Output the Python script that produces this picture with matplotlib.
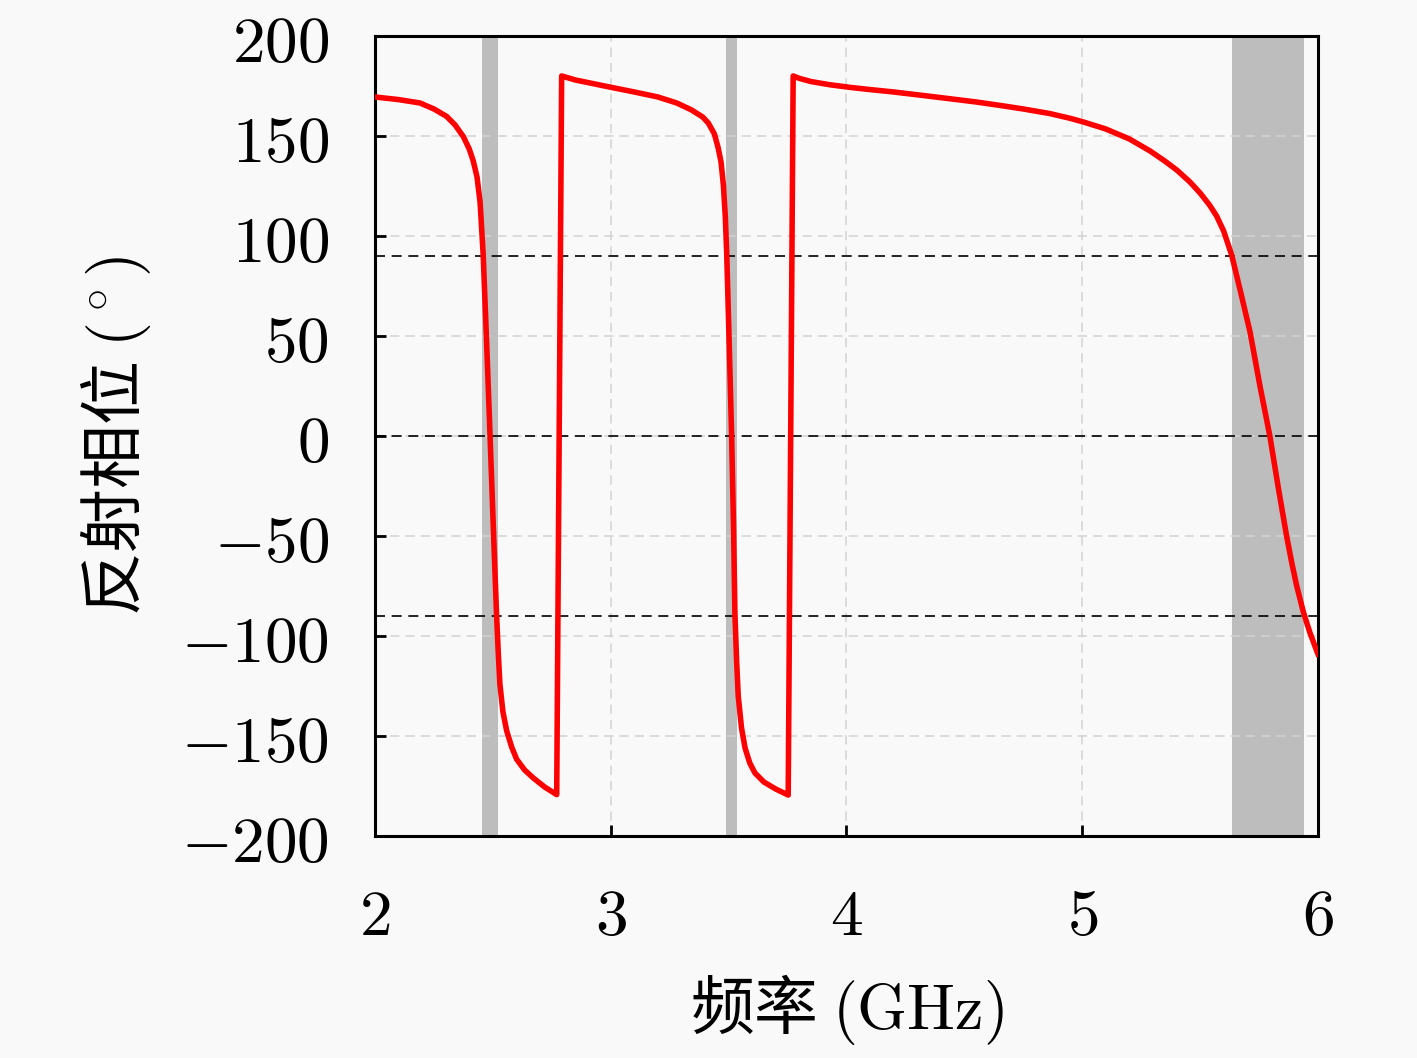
import numpy as np
import matplotlib
matplotlib.use("Agg")
import matplotlib.pyplot as plt
from matplotlib.ticker import FuncFormatter

plt.rcParams['font.family'] = ['Noto Sans CJK SC', 'DejaVu Sans']
plt.rcParams['mathtext.fontset'] = 'cm'

# frecuencia (GHz) y fase de reflexion (grados)
freq = [2.00, 2.10, 2.191, 2.25, 2.304, 2.34, 2.375, 2.40, 2.417, 2.433, 2.446, 2.459,
        2.474, 2.488, 2.502, 2.516, 2.523, 2.530, 2.543, 2.559, 2.58, 2.601,
        2.635, 2.672, 2.72, 2.771,
        2.792, 2.85, 2.99, 3.10, 3.20, 3.28, 3.343, 3.39, 3.414, 3.44, 3.456,
        3.468, 3.478, 3.486, 3.492, 3.503, 3.513, 3.521, 3.527, 3.534, 3.541,
        3.555, 3.57, 3.59, 3.612, 3.65, 3.70, 3.753,
        3.774, 3.80, 3.85, 3.93, 4.015, 4.10, 4.20, 4.30, 4.44, 4.55, 4.65, 4.75,
        4.863, 4.95, 5.005, 5.10, 5.20, 5.288, 5.35, 5.401, 5.457, 5.50,
        5.54, 5.570, 5.60, 5.634, 5.672, 5.712, 5.754, 5.796, 5.832, 5.867,
        5.89, 5.910, 5.938, 5.965, 5.987, 6.00]
phase = [169.5, 168.2, 166.5, 163.5, 159.8, 155.5, 149.7, 143.5, 137.5, 129.5, 117.0, 91.0,
         46.0, 1.0, -45.0, -89.7, -108.0, -124.0, -138.0, -147.5, -155.5, -161.6,
         -167.0, -171.0, -175.5, -179.3,
         180.0, 178.0, 174.6, 172.0, 169.5, 166.5, 163.0, 159.5, 156.5, 151.0, 144.0,
         137.0, 125.5, 110.0, 92.0, 45.0, 0.0, -45.0, -89.0, -112.0, -130.0,
         -146.0, -156.0, -163.5, -168.5, -173.0, -176.5, -179.5,
         180.0, 178.8, 177.2, 175.6, 174.3, 173.2, 172.0, 170.6, 168.6, 167.0, 165.3, 163.5,
         161.2, 158.8, 157.0, 153.5, 148.5, 142.5, 137.5, 133.0, 127.0, 121.5,
         115.5, 110.0, 102.5, 90.5, 72.0, 52.0, 25.0, 0.0, -26.0, -50.0,
         -64.0, -75.0, -88.0, -98.0, -105.0, -109.0]

# bandas sombreadas (GHz)
bandas = [(2.455, 2.520), (3.490, 3.534), (5.634, 5.940)]
ref_fase = [90, 0, -90]

xticks = [2, 3, 4, 5, 6]
yticks = [-200, -150, -100, -50, 0, 50, 100, 150, 200]

fig = plt.figure(figsize=(14.17, 10.58), dpi=100, facecolor='#f9f9f9')
ax = fig.add_axes([0.2646, 0.2098, 0.6655, 0.7562])
ax.set_facecolor('#f9f9f9')

for a, b in bandas:
    ax.axvspan(a, b, color='#bdbdbd', lw=0, zorder=1)

ax.set_axisbelow('line')
ax.grid(True, color='#d2d2d2', linestyle=(0, (6, 4)), linewidth=1.1)

for v in ref_fase:
    ax.axhline(v, color='black', linestyle=(0, (6, 4)), linewidth=1.2, zorder=2)

ax.plot(freq, phase, color='#ff0000', linewidth=4.0, zorder=3,
        solid_joinstyle='round')

ax.set_xlim(2, 6)
ax.set_ylim(-200, 200)
ax.set_xticks(xticks)
ax.set_yticks(yticks)
fmt = FuncFormatter(lambda v, p: r'$%d$' % v)
ax.xaxis.set_major_formatter(fmt)
ax.yaxis.set_major_formatter(fmt)
ax.tick_params(direction='in', length=8, width=2, labelsize=47,
               top=False, right=False)
ax.tick_params(axis='x', pad=34)
ax.tick_params(axis='y', pad=33)
for s in ax.spines.values():
    s.set_linewidth(2.2)

ax.set_xlabel(r'频率 $(\mathrm{GHz})$', fontsize=46, labelpad=16)
ax.set_ylabel(r'反射相位 $(^\circ)$', fontsize=46, labelpad=20)

plt.savefig('out.png', dpi=100, facecolor=fig.get_facecolor())
